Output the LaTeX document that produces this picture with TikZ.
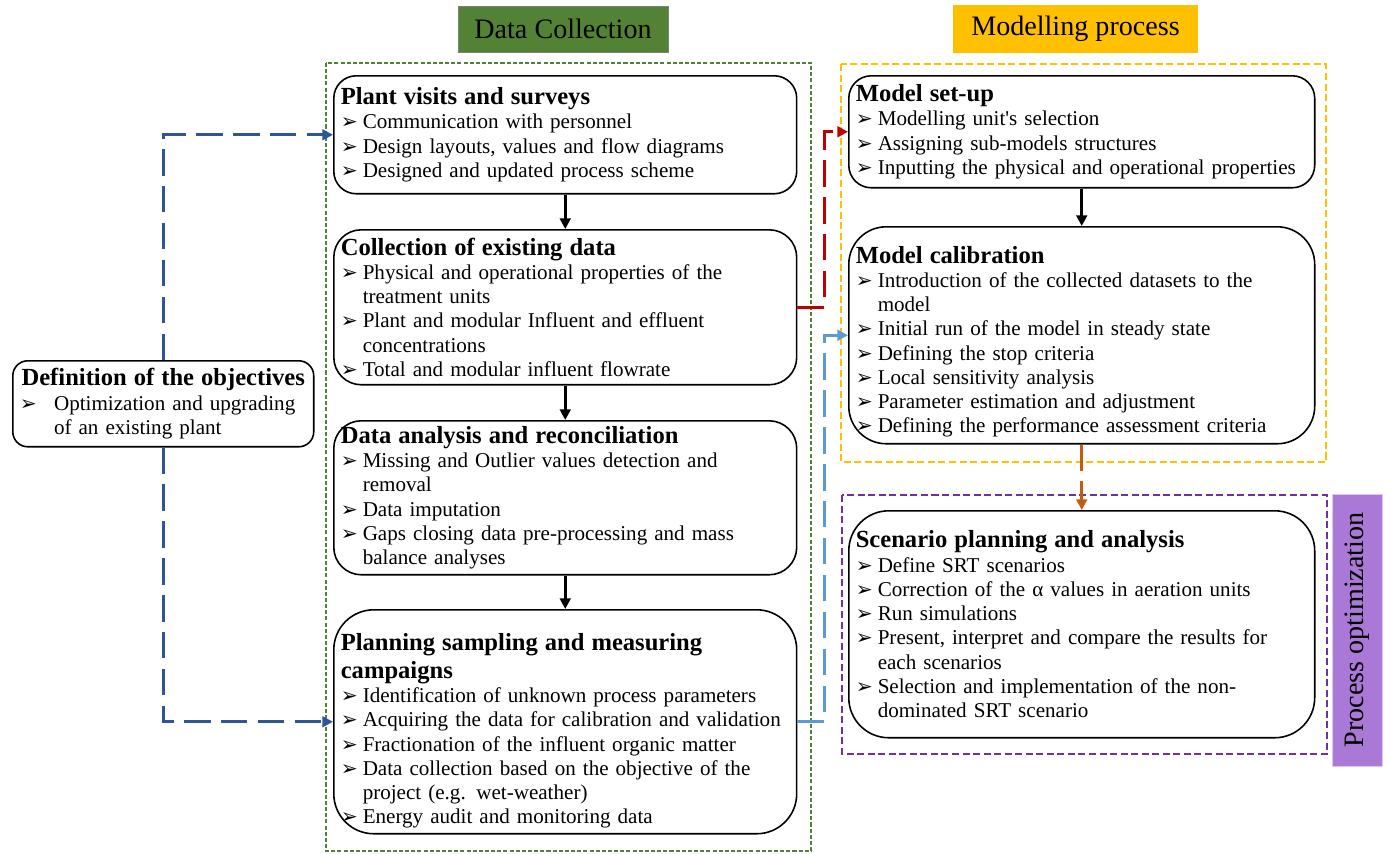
\documentclass[tikz,border=0pt]{standalone}
\usepackage{fontspec}
\setmainfont{Liberation Serif}
\newfontfamily\symf{DejaVu Sans}
\usetikzlibrary{arrows.meta}

\definecolor{dcgreen}{HTML}{548235}
\definecolor{mpyellow}{HTML}{FFC000}
\definecolor{popurple}{HTML}{7030A0}
\definecolor{polilac}{RGB}{170,120,215}
\definecolor{objblue}{HTML}{2F5597}
\definecolor{calblue}{HTML}{5B9BD5}
\definecolor{setred}{HTML}{C00000}
\definecolor{scenorange}{HTML}{C55A11}

\newcommand\bodyf{\fontsize{12}{13.8}\selectfont}
\newcommand\headf{\fontsize{14}{16}\selectfont\bfseries}
\newcommand\bul{{\symf\fontsize{11.5}{12}\selectfont ➢}}
\newcommand\itm[2][12.5pt]{\par\hangindent=#1\hangafter=1\makebox[#1][l]{\bul}#2}

\tikzset{
  stage/.style={draw, line width=0.9pt, anchor=north west, align=left,
    inner xsep=0.14cm, inner ysep=0.04cm, font=\bodyf},
  frame/.style={line width=1.1pt, dash pattern=on 2.3pt off 1.2pt},
  flow/.style={->, line width=1.5pt},
  link/.style={->, line width=1.6pt, dash pattern=on 15pt off 6pt},
  >={Triangle[length=6pt,width=6pt]}
}

\begin{document}
\begin{tikzpicture}[x=0.02cm,y=-0.02cm]
  \useasboundingbox (0,0) rectangle (1390,853);

  % Headers
  \node[fill=dcgreen, draw=gray, minimum width=4.2cm, minimum height=0.92cm,
    font=\fontsize{16}{18}\selectfont] (dchead) at (563,29) {Data Collection};
  \node[fill=mpyellow, minimum width=4.9cm, minimum height=0.96cm,
    font=\fontsize{16}{18}\selectfont] (mphead) at (1075.5,29) {Modelling process};
  \node[fill=polilac, draw=polilac!40, rotate=90, minimum width=5.44cm,
    minimum height=1cm, font=\fontsize{16}{18}\selectfont] (pohead) at (1357,630) {Process optimization};

  % Dashed frames
  \draw[frame, dcgreen] (326,63) rectangle (811,851);
  \draw[frame, mpyellow, dash pattern=on 4pt off 2pt] (841,64) rectangle (1326,462);
  \draw[frame, popurple, dash pattern=on 4pt off 2pt] (842,495) rectangle (1327,754);

  % Data collection stages
  \node[stage, rounded corners=0.45cm, text width=8.98cm, minimum height=2.36cm] (plant) at (333,75) {%
    {\headf Plant visits and surveys\par}
    \itm{Communication with personnel}
    \itm{Design layouts, values and flow diagrams}
    \itm{Designed and updated process scheme}\par};
  \node[stage, rounded corners=0.55cm, text width=8.98cm, minimum height=3.1cm] (existing) at (333,229) {%
    {\headf Collection of existing data\par}
    \itm{Physical and operational properties of the\newline treatment units}
    \itm{Plant and modular Influent and effluent\newline concentrations}
    \itm{Total and modular influent flowrate}\par};
  \node[stage, rounded corners=0.55cm, text width=8.98cm, minimum height=3.08cm] (analysis) at (333,420) {%
    {\headf Data analysis and reconciliation\par}
    \itm{Missing and Outlier values detection and\newline removal}
    \itm{Data imputation}
    \itm{Gaps closing data pre-processing and mass\newline balance analyses}\par};
  \node[stage, rounded corners=0.8cm, text width=8.98cm, minimum height=4.48cm] (planning) at (333,609) {%
    {\headf\rule{0pt}{20pt}Planning sampling and measuring\newline campaigns\par}
    \itm{Identification of unknown process parameters}
    \itm{Acquiring the data for calibration and validation}
    \itm{Fractionation of the influent organic matter}
    \itm{Data collection based on the objective of the\newline project (e.g. wet-weather)}
    \itm{Energy audit and monitoring data}\par};

  % Objectives
  \node[stage, rounded corners=0.3cm, text width=5.74cm, minimum height=1.72cm] (obj) at (12,360) {%
    {\headf\centering Definition of the objectives\par}
    \itm[19.5pt]{Optimization and upgrading\newline of an existing plant}\par};

  % Modelling stages
  \node[stage, rounded corners=0.45cm, text width=9.04cm, minimum height=2.24cm] (setup) at (848,75) {%
    {\headf Model set-up\par}
    \itm{Modelling unit\textquotesingle s selection}
    \itm{Assigning sub-models structures}
    \itm{Inputting the physical and operational properties}\par};
  \node[stage, rounded corners=0.75cm, text width=9.04cm, minimum height=4.34cm] (calib) at (848,226) {%
    {\headf\rule{0pt}{17pt}Model calibration\par}
    \itm{Introduction of the collected datasets to the\newline model}
    \itm{Initial run of the model in steady state}
    \itm{Defining the stop criteria}
    \itm{Local sensitivity analysis}
    \itm{Parameter estimation and adjustment}
    \itm{Defining the performance assessment criteria}\par};
  \node[stage, rounded corners=0.8cm, text width=9.04cm, minimum height=4.54cm] (scen) at (848,510) {%
    {\headf Scenario planning and analysis\par}
    \itm{Define SRT scenarios}
    \itm{Correction of the α values in aeration units}
    \itm{Run simulations}
    \itm{Present, interpret and compare the results for\newline each scenarios}
    \itm{Selection and implementation of the non-\newline dominated SRT scenario}\par};

  % Connectors
  \draw[flow] (plant.south) -- (existing.north);
  \draw[flow] (existing.south) -- (analysis.north);
  \draw[flow] (analysis.south) -- (planning.north);
  \draw[flow] (setup.south) -- (calib.north);
  \draw[link, objblue] (obj.north) |- (plant.west);
  \draw[link, objblue] (obj.south) |- (planning.west);
  \draw[link, setred] (existing.east) -- ++(27,0) |- (setup.west);
  \draw[link, calblue] (planning.east) -- ++(27,0) |- (calib.west);
  \draw[link, scenorange] (calib.south) -- (scen.north);
\end{tikzpicture}
\end{document}
